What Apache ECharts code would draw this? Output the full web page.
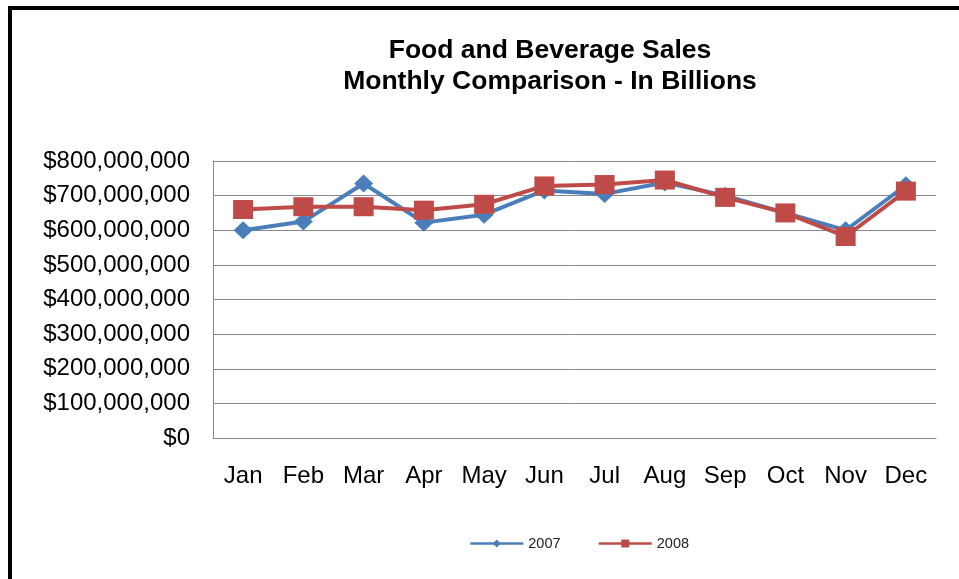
<!DOCTYPE html>
<html>
<head>
<meta charset="utf-8">
<script src="https://cdn.jsdelivr.net/npm/echarts@6/dist/echarts.min.js"></script>
<style>
html,body{margin:0;padding:0;background:#fff;}
#c{width:959px;height:579px;}
</style>
</head>
<body>
<div id="c"></div>
<script>
var months = ['Jan','Feb','Mar','Apr','May','Jun','Jul','Aug','Sep','Oct','Nov','Dec'];
var sales2007 = [600000000, 625000000, 735000000, 622000000, 645000000, 715000000, 705000000, 738000000, 700000000, 650000000, 600000000, 730000000];
var sales2008 = [660000000, 668000000, 668000000, 658000000, 675000000, 728000000, 732000000, 745000000, 695000000, 650000000, 582000000, 713000000];
var yTicks = [0, 100000000, 200000000, 300000000, 400000000, 500000000, 600000000, 700000000, 800000000];

function money(v){
  return '$' + String(Math.round(v)).replace(/\B(?=(\d{3})+(?!\d))/g, ',');
}

var chart = echarts.init(document.getElementById('c'));
chart.setOption({
  animation: false,
  backgroundColor: '#fff',
  textStyle: {fontFamily: 'Liberation Sans, Arial, sans-serif'},
  title: {
    text: 'Food and Beverage Sales\nMonthly Comparison - In Billions',
    left: 545, top: 30, textAlign: 'center',
    textStyle: {fontSize: 26.5, fontWeight: 'bold', color: '#000', lineHeight: 31, fontFamily: 'Liberation Sans, Arial, sans-serif'}
  },
  graphic: [
    {type: 'rect', shape: {x: 8, y: 6, width: 4, height: 580}, style: {fill: '#000'}},
    {type: 'rect', shape: {x: 8, y: 6, width: 960, height: 4}, style: {fill: '#000'}}
  ],
  legend: {
    left: 464, top: 531,
    itemWidth: 53, itemHeight: 10, itemGap: 37,
    lineStyle: {width: 2.5},
    textStyle: {fontSize: 14.5, color: '#222'},
    data: ['2007', '2008']
  },
  grid: {left: 213, right: 23, top: 161, bottom: 141},
  xAxis: {
    type: 'category', data: months, boundaryGap: true,
    axisLine: {show: true, lineStyle: {color: '#888', width: 1}},
    axisTick: {show: false},
    axisLabel: {fontSize: 24, color: '#000', margin: 26}
  },
  yAxis: {
    type: 'value', min: yTicks[0], max: yTicks[yTicks.length-1], interval: yTicks[1]-yTicks[0],
    axisLine: {show: true, lineStyle: {color: '#888', width: 1}},
    axisTick: {show: false},
    splitLine: {show: true, lineStyle: {color: '#888', width: 1}},
    axisLabel: {fontSize: 24, color: '#000', margin: 23, formatter: money}
  },
  series: [
    {name: '2007', type: 'line', data: sales2007, symbol: 'diamond', symbolSize: [19, 18],
     lineStyle: {color: '#4A7EBB', width: 4}, itemStyle: {color: '#4A7EBB'}, z: 2},
    {name: '2008', type: 'line', data: sales2008, symbol: 'rect', symbolSize: [20, 19],
     lineStyle: {color: '#BE4B48', width: 4}, itemStyle: {color: '#BE4B48'}, z: 3}
  ]
});
</script>
</body>
</html>
